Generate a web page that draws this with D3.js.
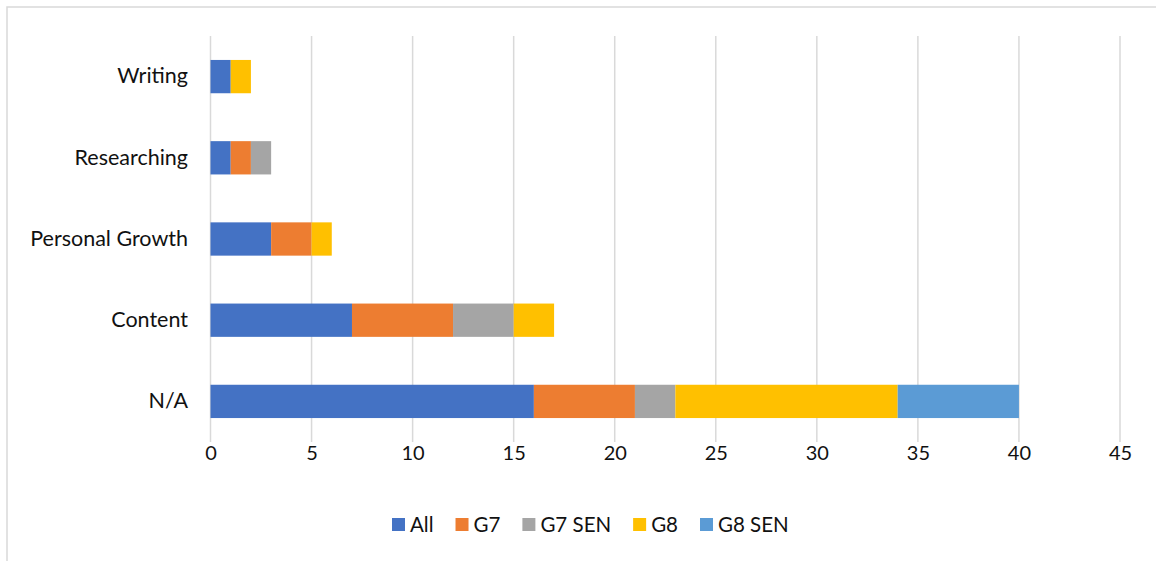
<!DOCTYPE html>
<html><head><meta charset="utf-8">
<script src="https://cdn.jsdelivr.net/npm/d3@7"></script>
<style>body{margin:0;background:#fff}svg{display:block}text{font-family:Lato,"Open Sans",sans-serif;fill:#111}</style>
</head><body><svg id="c" width="1156" height="561"></svg>
<script>
const categories = ["Writing","Researching","Personal Growth","Content","N/A"];
const seriesNames = ["All","G7","G7 SEN","G8","G8 SEN"];
const colors = ["#4472C4","#ED7D31","#A5A5A5","#FFC000","#5B9BD5"];
const All    = [1,1,3,7,16];
const G7     = [0,1,2,5,5];
const G7SEN  = [0,1,0,3,2];
const G8     = [1,0,1,2,11];
const G8SEN  = [0,0,0,0,6];
const ticks = [0,5,10,15,20,25,30,35,40,45];

const values = [All,G7,G7SEN,G8,G8SEN];
const rows = categories.map((c,i)=>{const r={cat:c};seriesNames.forEach((s,j)=>r[s]=values[j][i]);return r;});
const stack = d3.stack().keys(seriesNames)(rows);

const svg = d3.select("#c");
svg.append("rect").attr("x",7).attr("y",7).attr("width",1170).attr("height",570).attr("fill","none").attr("stroke","#d9d9d9").attr("stroke-width",1.5);

const x = d3.scaleLinear().domain([0,45]).range([210.5,1120]);
const y = d3.scaleBand().domain(categories).range([36,442]).paddingInner(0.59).paddingOuter(0.295);

svg.append("g").selectAll("line").data(ticks).join("line")
  .attr("x1",d=>x(d)).attr("x2",d=>x(d)).attr("y1",36).attr("y2",442)
  .attr("stroke","#d9d9d9").attr("stroke-width",1.5);

svg.append("g").selectAll("g").data(stack).join("g").attr("fill",(d,i)=>colors[i])
  .selectAll("rect").data(d=>d).join("rect")
  .attr("x",d=>x(d[0])).attr("width",d=>x(d[1])-x(d[0]))
  .attr("y",d=>y(d.data.cat)).attr("height",y.bandwidth());

const xAxis = svg.append("g").attr("transform","translate(0,442)")
  .call(d3.axisBottom(x).tickValues(ticks).tickSize(0).tickPadding(4));
xAxis.select(".domain").remove();
xAxis.selectAll("text").attr("font-size",20).attr("font-family","Lato,sans-serif").attr("fill","#111");

const yAxis = svg.append("g").attr("transform","translate(210,0)")
  .call(d3.axisLeft(y).tickSize(0).tickPadding(22));
yAxis.select(".domain").remove();
yAxis.selectAll("text").attr("font-size",21.5).attr("font-family","Lato,sans-serif").attr("fill","#111");

// legend
const lg = svg.append("g");
let lx = 392;
seriesNames.forEach((s,i)=>{
  lg.append("rect").attr("x",lx).attr("y",518).attr("width",13).attr("height",13).attr("fill",colors[i]);
  const t = lg.append("text").attr("x",lx+18).attr("y",532).attr("font-size",20.5).text(s);
  lx += 18 + t.node().getComputedTextLength() + 22;
});
</script></body></html>
